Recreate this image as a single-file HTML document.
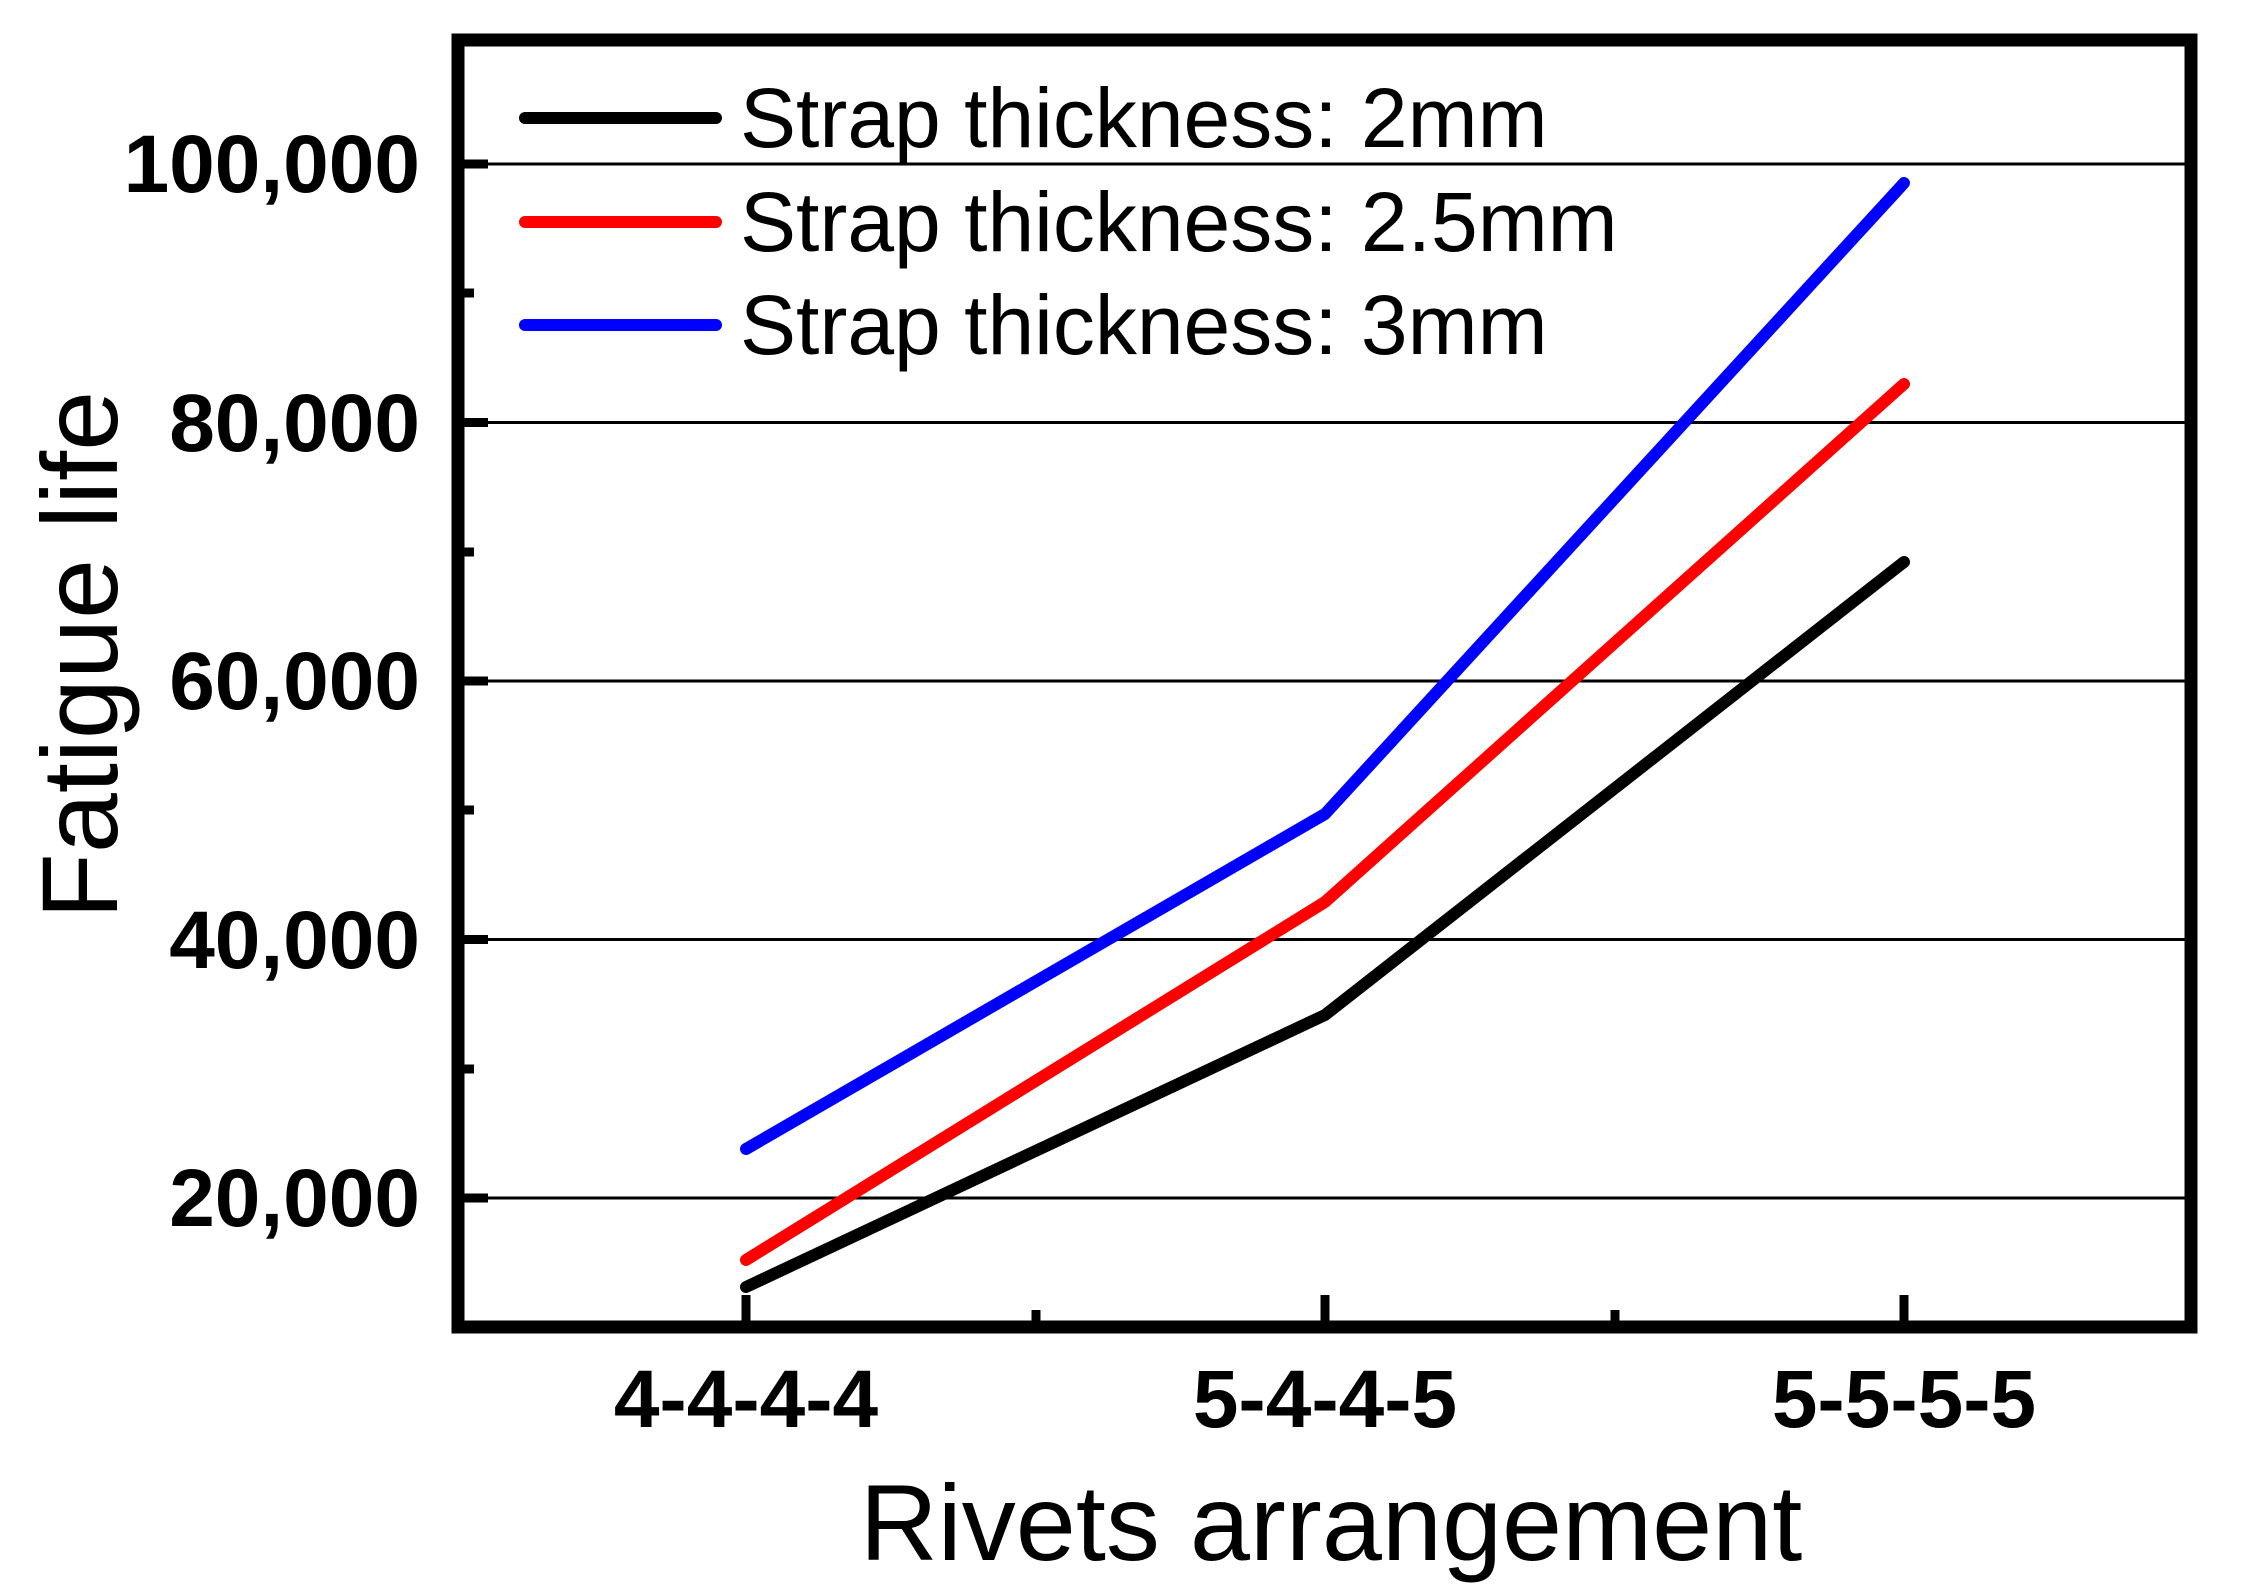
<!DOCTYPE html>
<html><head><meta charset="utf-8"><style>
html,body{margin:0;padding:0;background:#fff;}
svg{display:block;}
</style></head><body>
<svg width="2256" height="1593" viewBox="0 0 2256 1593" xmlns="http://www.w3.org/2000/svg" font-family="Liberation Sans, Arial, sans-serif">
<rect width="2256" height="1593" fill="#fff"/>
<g stroke="#000" stroke-width="3">
<line x1="458" y1="164" x2="2190" y2="164"/>
<line x1="458" y1="422.5" x2="2190" y2="422.5"/>
<line x1="458" y1="681" x2="2190" y2="681"/>
<line x1="458" y1="939.5" x2="2190" y2="939.5"/>
<line x1="458" y1="1198" x2="2190" y2="1198"/>
</g>
<g stroke="#000" stroke-width="9">
<line x1="458" y1="164" x2="488" y2="164"/>
<line x1="458" y1="422.5" x2="488" y2="422.5"/>
<line x1="458" y1="681" x2="488" y2="681"/>
<line x1="458" y1="939.5" x2="488" y2="939.5"/>
<line x1="458" y1="1198" x2="488" y2="1198"/>
<line x1="458" y1="293" x2="474" y2="293"/>
<line x1="458" y1="552" x2="474" y2="552"/>
<line x1="458" y1="810" x2="474" y2="810"/>
<line x1="458" y1="1069" x2="474" y2="1069"/>
<line x1="746" y1="1327" x2="746" y2="1295"/>
<line x1="1325" y1="1327" x2="1325" y2="1295"/>
<line x1="1904" y1="1327" x2="1904" y2="1295"/>
<line x1="1036" y1="1327" x2="1036" y2="1310"/>
<line x1="1615" y1="1327" x2="1615" y2="1310"/>
</g>
<rect x="458" y="40" width="1733" height="1287" fill="none" stroke="#000" stroke-width="13"/>
<g fill="none" stroke-width="12" stroke-linecap="round" stroke-linejoin="round">
<polyline points="746,1287 1325,1015 1904,562" stroke="#000"/>
<polyline points="746,1260 1325,902 1904,384" stroke="#f00"/>
<polyline points="746,1149 1325,814 1904,183" stroke="#00f"/>
<line x1="525" y1="118" x2="716" y2="118" stroke="#000"/>
<line x1="525" y1="222" x2="716" y2="222" stroke="#f00"/>
<line x1="525" y1="325" x2="716" y2="325" stroke="#00f"/>
</g>
<g font-size="84" fill="#000">
<text x="740" y="147">Strap thickness: 2mm</text>
<text x="740" y="251">Strap thickness: 2.5mm</text>
<text x="740" y="354">Strap thickness: 3mm</text>
</g>
<g font-size="82" font-weight="bold" text-anchor="end" fill="#000">
<text x="420" y="192">100,000</text>
<text x="420" y="451">80,000</text>
<text x="420" y="709">60,000</text>
<text x="420" y="968">40,000</text>
<text x="420" y="1226">20,000</text>
</g>
<g font-size="82" font-weight="bold" text-anchor="middle" fill="#000">
<text x="746" y="1427">4-4-4-4</text>
<text x="1325" y="1427">5-4-4-5</text>
<text x="1904" y="1427">5-5-5-5</text>
</g>
<text x="1331" y="1560" font-size="108" text-anchor="middle">Rivets arrangement</text>
<text transform="translate(117,655) rotate(-90)" font-size="108" text-anchor="middle">Fatigue life</text>
</svg>
</body></html>
